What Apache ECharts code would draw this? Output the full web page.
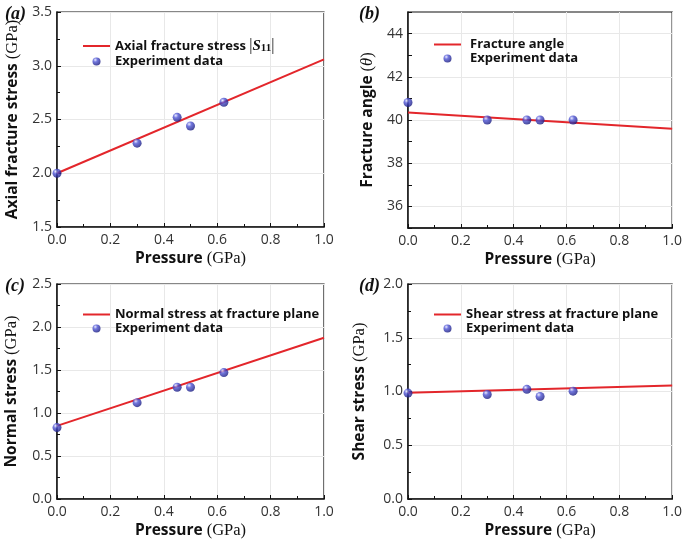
<!DOCTYPE html>
<html>
<head>
<meta charset="utf-8">
<script src="https://cdn.jsdelivr.net/npm/echarts@6/dist/echarts.min.js"></script>
<style>
  html, body { margin: 0; padding: 0; background: #fff; }
  #chart { width: 685px; height: 541px; }
</style>
</head>
<body>
<div id="chart"></div>
<script>
// experiment points
const pressure = [0, 0.3, 0.45, 0.5, 0.625];
const axialStress = [2.0, 2.28, 2.52, 2.44, 2.66];
const fractureAngle = [40.81, 40.0, 40.0, 40.0, 40.0];
const normalStress = [0.83, 1.12, 1.30, 1.30, 1.47];
const shearStress = [0.985, 0.972, 1.02, 0.953, 1.003];

// fitted lines, at pressure 0 and 1
const fitX = [0, 1];
const axialFit = [2.0, 3.06];
const angleFit = [40.35, 39.6];
const normalFit = [0.85, 1.875];
const shearFit = [0.988, 1.056];

const SANS = '"Open Sans", "DejaVu Sans", sans-serif';
const SERIF = '"Liberation Serif", "DejaVu Serif", serif';
const RED = '#e3262b';
const BALL = new echarts.graphic.RadialGradient(0.35, 0.3, 0.75, [
  { offset: 0, color: '#e6e8ff' },
  { offset: 0.35, color: '#4f55d6' },
  { offset: 1, color: '#15177a' }
]);
const LINE_ICON = 'path://M0,0H27V2H0Z';

function pairs(xs, ys) {
  return xs.map(function (x, i) { return [x, ys[i]]; });
}

const nameRich = {
  b: { fontFamily: SANS, fontWeight: 'bold', fontSize: 15.5, color: '#111' },
  s: { fontFamily: SERIF, fontSize: 16.5, color: '#111' },
  i: { fontFamily: SERIF, fontStyle: 'italic', fontSize: 16.5, color: '#111' }
};

const panels = [
  { label: '(a)', grid: { left: 57, top: 12, right: 361, bottom: 314 },
    yMin: 1.5, yMax: 3.5, yInt: 0.5, yName: '{b|Axial fracture stress }{s|(GPa)}', yGap: 36,
    fitName: 'Axial fracture stress', exp: axialStress, fit: axialFit,
    legend: { left: 83, top: 38 }, textPad: 0 },
  { label: '(b)', grid: { left: 408, top: 12, right: 10, bottom: 313 },
    yMin: 35, yMax: 45, yInt: 1, yName: '{b|Fracture angle }{s|(}{i|θ}{s|)}', yGap: 32,
    fitName: 'Fracture angle', exp: fractureAngle, fit: angleFit,
    legend: { left: 434, top: 38 }, textPad: 4 },
  { label: '(c)', grid: { left: 57, top: 284, right: 361, bottom: 42 },
    yMin: 0, yMax: 2.5, yInt: 0.5, yName: '{b|Normal stress }{s|(GPa)}', yGap: 37,
    fitName: 'Normal stress at fracture plane', exp: normalStress, fit: normalFit,
    legend: { left: 83, top: 308 }, textPad: 0 },
  { label: '(d)', grid: { left: 408, top: 284, right: 10, bottom: 42 },
    yMin: 0, yMax: 2.0, yInt: 0.5, yName: '{b|Shear stress }{s|(GPa)}', yGap: 40,
    fitName: 'Shear stress at fracture plane', exp: shearStress, fit: shearFit,
    legend: { left: 434, top: 308 }, textPad: 0 }
];

let option = {
  backgroundColor: '#fff',
  animation: false,
  title: [], grid: [], xAxis: [], yAxis: [], legend: [], series: []
};

panels.forEach(function (p, k) {
  option.title.push({
    text: p.label,
    left: p.grid.left - 57 + (k % 2 ? 3 : 0),
    top: p.grid.top - 12,
    textStyle: { fontFamily: SERIF, fontStyle: 'italic', fontWeight: 'bold', fontSize: 18, color: '#111' }
  });
  option.grid.push(Object.assign({
    show: true, borderColor: '#111', borderWidth: 1.2, containLabel: false
  }, p.grid));

  option.xAxis.push({
    gridIndex: k, type: 'value', min: 0, max: 1, interval: 0.2,
    name: '{b|Pressure }{s|(GPa)}', nameLocation: 'middle', nameGap: 23,
    nameTextStyle: { rich: nameRich },
    axisLine: { lineStyle: { color: '#111', width: 1.5 } },
    axisTick: { inside: true, length: 4, lineStyle: { color: '#111' } },
    minorTick: { show: true, splitNumber: 2, length: 3, lineStyle: { color: '#111' } },
    axisLabel: { fontFamily: SANS, fontSize: 14, color: '#333', margin: 6,
      formatter: function (v) { return v.toFixed(1); } },
    splitLine: { show: true, lineStyle: { color: '#e8e8e8', width: 1 } }
  });

  const isAngle = p.yInt === 1;
  option.yAxis.push({
    gridIndex: k, type: 'value', min: p.yMin, max: p.yMax, interval: p.yInt,
    name: p.yName, nameLocation: 'middle', nameGap: p.yGap,
    nameTextStyle: { rich: nameRich },
    axisLine: { show: true, lineStyle: { color: '#111', width: 1.5 } },
    axisTick: { show: true, inside: true, length: 4, lineStyle: { color: '#111' } },
    minorTick: { show: !isAngle, splitNumber: 2, length: 3, lineStyle: { color: '#111' } },
    axisLabel: { fontFamily: SANS, fontSize: 14, color: '#333', margin: 5,
      formatter: function (v) {
        if (isAngle) return (v % 2 === 0 && v > p.yMin && v < p.yMax) ? String(v) : '';
        return v.toFixed(1);
      } },
    splitLine: { show: true, lineStyle: { color: isAngle ? ['rgba(0,0,0,0)', '#e8e8e8'] : '#e8e8e8', width: 1 } }
  });

  let legendRich = {
    n: { fontFamily: SANS, fontWeight: 'bold', fontSize: 13, lineHeight: 13, color: '#111', padding: [0, 0, 0, p.textPad] },
    S: { fontFamily: SERIF, fontWeight: 'bold', fontStyle: 'italic', fontSize: 15, lineHeight: 13, color: '#111' },
    sub: { fontFamily: SERIF, fontWeight: 'bold', fontSize: 11, lineHeight: 13, color: '#111', padding: [5, 0, 0, 0] },
    bar: { fontFamily: SERIF, fontSize: 16, lineHeight: 13, color: '#111' }
  };
  option.legend.push({
    left: p.legend.left, top: p.legend.top, orient: 'vertical', padding: 0,
    itemWidth: 27, itemHeight: 8, itemGap: 1,
    data: [{ name: p.fitName, icon: LINE_ICON }, { name: 'Experiment data', icon: 'circle' }],
    textStyle: { rich: legendRich },
    formatter: function (name) {
      if (name === 'Axial fracture stress') {
        return '{n|' + name + ' }{bar||}{S|S}{sub|11}{bar||}';
      }
      return '{n|' + name + '}';
    }
  });

  option.series.push({
    name: p.fitName, type: 'line', xAxisIndex: k, yAxisIndex: k,
    data: pairs(fitX, p.fit), symbol: 'none',
    lineStyle: { color: RED, width: 2 }, itemStyle: { color: RED }, z: 3
  });
  option.series.push({
    name: 'Experiment data', type: 'scatter', xAxisIndex: k, yAxisIndex: k,
    data: pairs(pressure, p.exp), symbolSize: 9,
    itemStyle: { color: BALL }, z: 4
  });
});

let myChart = echarts.init(document.getElementById('chart'));
myChart.setOption(option);
</script>
</body>
</html>
